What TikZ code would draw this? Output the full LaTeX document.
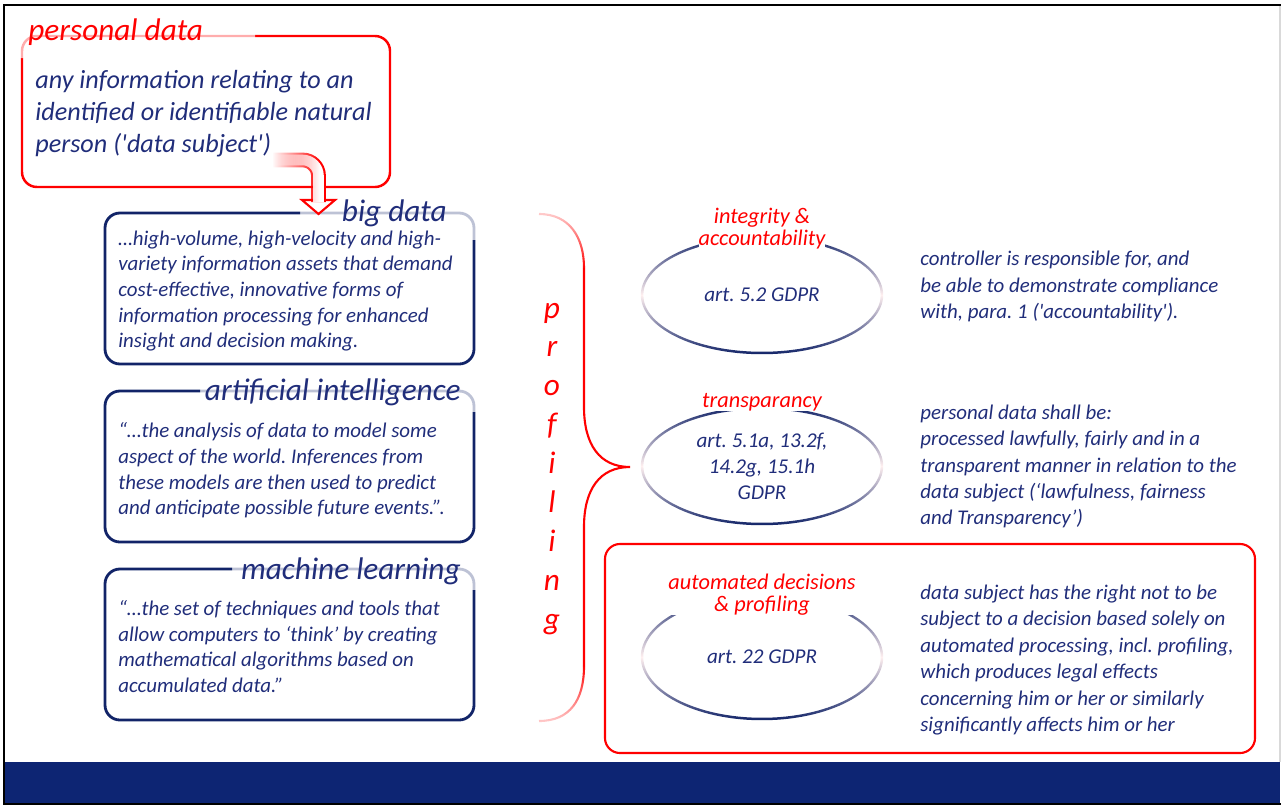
\documentclass[tikz,border=0pt]{standalone}
\usepackage{fontspec}
\setmainfont{Carlito}
\usetikzlibrary{positioning,calc,shapes.geometric,fadings}

\definecolor{gdprnavy}{RGB}{32,45,122}
\definecolor{boxnavy}{RGB}{18,36,104}
\definecolor{barnavy}{RGB}{13,37,115}
\definecolor{gdprred}{RGB}{255,0,0}
\colorlet{fadenavy}{boxnavy!28}
\colorlet{fadered}{gdprred!32}

\tikzfading[name=fadetop, top color=transparent!80, bottom color=transparent!0]
\tikzfading[name=fadebottom, top color=transparent!0, bottom color=transparent!80]
\tikzfading[name=tailfade, left color=transparent!100, middle color=transparent!0, right color=transparent!0]

\tikzset{
  px/.style={x=0.02cm,y=-0.02cm},
  deftext/.style={inner sep=0pt, anchor=west, align=left, text=gdprnavy, font=\itshape\fontsize{14.9}{18.2}\selectfont},
  boxtext/.style={deftext, font=\itshape\fontsize{11.9}{14.6}\selectfont},
  ruletext/.style={deftext, font=\itshape\fontsize{11.9}{15}\selectfont},
  boxtitle/.style={inner sep=0pt, text=gdprnavy, font=\itshape\fontsize{17.8}{20}\selectfont},
  redtitle/.style={boxtitle, text=gdprred},
  artname/.style={inner sep=0pt, align=center, fill=white, text=gdprred, font=\itshape\fontsize{12.7}{12.5}\selectfont},
  artref/.style={ellipse, inner sep=0pt, align=center, text=gdprnavy, font=\itshape\fontsize{12}{14.8}\selectfont},
  navybox/.style={draw=boxnavy, line width=1.6pt, rounded corners=8.5pt},
  fadebox/.style={navybox, draw=fadenavy},
  redbox/.style={draw=gdprred, line width=1.4pt, rounded corners=8.5pt},
  proftext/.style={inner sep=0pt, anchor=base, text=gdprred, font=\itshape\fontsize{17.8}{20}\selectfont},
}

% ring round an article ellipse: node, y radius in cm
\newcommand{\artring}[2]{%
  \shade[top color=boxnavy, bottom color=boxnavy, middle color=gdprred!6!white, even odd rule]
    (#1.center) ellipse [x radius=2.425cm, y radius=#2cm+0.025cm]
    (#1.center) ellipse [x radius=2.375cm, y radius=#2cm-0.025cm];}

\frenchspacing
\begin{document}
\begin{tikzpicture}[px]
\useasboundingbox (0,0) rectangle (1281,805);

% frame and footer bar
\fill[barnavy] (5,762) rectangle (1280,803);
\draw[line width=1.1pt] (1281,5) -- (4,5) -- (4,805);
\draw[line width=0.8pt] (4,804) -- (1281,804);
\draw[black!15, line width=0.6pt] (1280,6) -- (1280,762);

% personal data
\draw[redbox] (255,36) -| (390,187) -| (22,58);
\draw[redbox, draw=fadered] (22,58) |- (255,36);
\node[redtitle, anchor=base west] (pdtitle) at (28,40) {personal data};
\node[deftext] (pdtext) at (35,113.5) {any information relating to an\\identified or identifiable natural\\person (\textquotesingle data subject\textquotesingle)};

% big data
\draw[fadebox] (300,213) -| (474,240);
\draw[navybox] (300,213) -| (105,364) -| (474,240);
\node[boxtitle, anchor=base east] (bdtitle) at (447,221) {big data};
\node[boxtext] (bdtext) at (118,291) {…high-volume, high-velocity and high-\\variety information assets that demand\\cost-effective, innovative forms of\\information processing for enhanced\\insight and decision making.};

% artificial intelligence
\draw[fadebox] (200,391) -| (474,412);
\draw[navybox] (200,391) -| (105,542) -| (474,412);
\node[boxtitle, anchor=base east] (aititle) at (461,400.5) {artificial intelligence};
\node[boxtext] (aitext) at (118,470.5) {“…the analysis of data to model some\\aspect of the world. Inferences from\\these models are then used to predict\\and anticipate possible future events.”.};

% machine learning
\draw[fadebox] (232,569) -| (474,590);
\draw[navybox] (232,569) -| (105,720) -| (474,590);
\node[boxtitle, anchor=base east] (mltitle) at (461,579) {machine learning};
\node[boxtext] (mltext) at (118,646.5) {“…the set of techniques and tools that\\allow computers to ‘think’ by creating\\mathematical algorithms based on\\accumulated data.”};

% arrow personal data -> big data
\coordinate (pdout) at (273,160);
\coordinate (bdin) at (318.5,214);
\draw[gdprred, line width=1.2pt, fill=white] ($(bdin)+(-16.5,-14)$) -- (bdin) -- ($(bdin)+(16.5,-14)$) -- cycle;
\draw[gdprred, line width=1.2pt, double=white, double distance=6pt, rounded corners=9pt, path fading=tailfade] (pdout) -| ($(bdin)+(0,-12)$);

% profiling brace
\draw[gdprred, line width=1.2pt] (584,268) -- (584,407) .. controls (584,445) and (600,467) .. (630,467)
  .. controls (600,467) and (584,489) .. (584,527) -- (584,666);
\draw[gdprred, line width=1.2pt, path fading=fadetop] (539,214) .. controls (570,214) and (584,238) .. (584,268);
\draw[gdprred, line width=1.2pt, path fading=fadebottom] (584,666) .. controls (584,700) and (570,721) .. (539,721);
\foreach \ch [count=\i from 0] in {p,r,o,f,i,l,i,n,g}
  \node[proftext] (prof\i) at (552,318+38.9*\i) {\ch};

% integrity & accountability
\node[artref] (acc) at (762,295) {art. 5.2 GDPR};
\artring{acc}{1.16}
\node[artname] (accname) at (762,229) {integrity \&\\accountability};
\node[ruletext] (accrule) at (920,286.5) {controller is responsible for, and\\be able to demonstrate compliance\\with, para. 1 (\textquotesingle accountability\textquotesingle).};

% transparency
\node[artref] (trp) at (762,466) {art. 5.1a, 13.2f,\\14.2g, 15.1h\\GDPR};
\artring{trp}{1.16}
\node[artname] (trpname) at (762,402) {transparancy};
\node[ruletext] (trprule) at (920,466.5) {personal data shall be:\\processed lawfully, fairly and in a\\transparent manner in relation to the\\data subject (‘lawfulness, fairness\\and Transparency’)};

% automated decisions
\draw[redbox, line width=1.2pt] (605,544) rectangle (1255,753);
\node[artref] (adm) at (762,657) {art. 22 GDPR};
\artring{adm}{1.24}
\node[artname] (admname) at (762,594.5) {automated decisions\\\& profiling};
\node[ruletext] (admrule) at (920,660) {data subject has the right not to be\\subject to a decision based solely on\\automated processing, incl. profiling,\\which produces legal effects\\concerning him or her or similarly\\significantly affects him or her};
\end{tikzpicture}
\end{document}
